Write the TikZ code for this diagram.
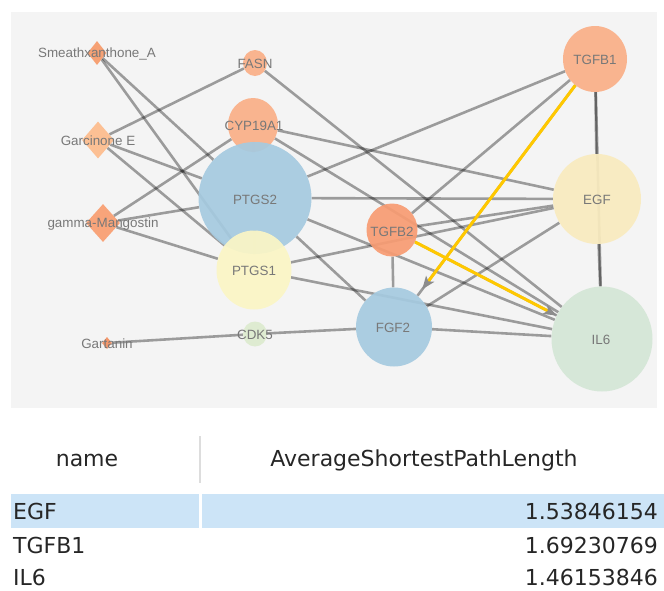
\documentclass[tikz,border=0pt]{standalone}
\usepackage{fontspec}
\setmainfont{Liberation Sans}
\newfontfamily\tablefont{DejaVu Sans}
\usetikzlibrary{shapes.geometric,arrows.meta}
\pgfdeclarelayer{panel}
\pgfdeclarelayer{links}
\pgfsetlayers{panel,links,main}
\definecolor{panelgray}{HTML}{F4F4F4}
\definecolor{orA}{HTML}{FAAF87}
\definecolor{orB}{HTML}{F89C72}
\definecolor{orSm}{HTML}{F79C6C}
\definecolor{orGc}{HTML}{FDBD8E}
\definecolor{orGm}{HTML}{F9A073}
\definecolor{orGt}{HTML}{F49263}
\definecolor{blueN}{HTML}{A5CAE0}
\definecolor{yelN}{HTML}{FBF6C5}
\definecolor{egfN}{HTML}{F9EBBE}
\definecolor{il6N}{HTML}{D4E6D6}
\definecolor{cdkN}{HTML}{DDEBCF}
\definecolor{lblgray}{RGB}{120,120,120}
\definecolor{hiyel}{RGB}{255,200,0}
\definecolor{arrgray}{RGB}{140,140,140}
\definecolor{selblue}{HTML}{CCE4F7}
\definecolor{sepgray}{HTML}{DDDDDD}
\tikzset{
  circ/.style={ellipse, inner sep=0pt, draw=none, fill opacity=0.92},
  dia/.style={diamond, inner sep=0pt, draw=none, fill opacity=0.94},
  lbl/.style={text=lblgray, font=\fontsize{13.4}{15}\selectfont, inner sep=0pt},
  lnk/.style={draw=black, draw opacity=0.36, line width=2.6pt},
  hilite/.style={draw=hiyel, line width=3pt, -{Stealth[length=13pt,width=10pt,inset=3pt,color=arrgray]}},
  ttxt/.style={text=black!85, font=\tablefont\fontsize{22}{26}\selectfont, inner sep=0pt}
}
\begin{document}
\begin{tikzpicture}[x=1pt,y=-1pt]
\useasboundingbox (0,0) rectangle (664,590);
\begin{pgfonlayer}{panel}
\fill[panelgray] (11,12) rectangle (657,408);
\end{pgfonlayer}
% nodes
\node[dia, fill=orSm, minimum width=19pt, minimum height=24pt] (sm) at (97,53) {};
\node[dia, fill=orGc, minimum width=32pt, minimum height=37pt] (gc) at (98,140) {};
\node[dia, fill=orGm, minimum width=34pt, minimum height=38pt] (gm) at (103,223) {};
\node[dia, fill=orGt, minimum width=10pt, minimum height=12pt] (gt) at (107,343) {};
\node[circ, fill=orA, minimum width=24pt, minimum height=26pt] (fasn) at (255,63) {};
\node[circ, fill=orA, minimum width=50pt, minimum height=54pt] (cyp) at (253,125) {};
\node[circ, fill=blueN, minimum width=113pt, minimum height=112pt] (ptgs2) at (255,198) {};
\node[circ, fill=yelN, minimum width=75pt, minimum height=79pt] (ptgs1) at (254,270) {};
\node[circ, fill=cdkN, minimum width=24pt, minimum height=25pt] (cdk5) at (255,334) {};
\node[circ, fill=orA, minimum width=64pt, minimum height=66pt] (tgfb1) at (595,59) {};
\node[circ, fill=egfN, minimum width=88pt, minimum height=90pt] (egf) at (597,199) {};
\node[circ, fill=orB, minimum width=51pt, minimum height=53pt] (tgfb2) at (392,230) {};
\node[circ, fill=blueN, minimum width=76pt, minimum height=79pt] (fgf2) at (394,327) {};
\node[circ, fill=il6N, minimum width=101pt, minimum height=105pt] (il6) at (602,339) {};
% links
\begin{pgfonlayer}{links}
\draw[lnk] (sm) -- (ptgs1);
\draw[lnk] (sm) -- (ptgs2);
\draw[lnk] (ptgs2) -- (fgf2);
\draw[lnk] (gc) -- (fasn);
\draw[lnk] (gc) -- (ptgs2);
\draw[lnk] (gc) -- (ptgs1);
\draw[lnk] (gm) -- (cyp);
\draw[lnk] (gm) -- (ptgs2);
\draw[lnk] (gm) -- (ptgs1);
\draw[lnk] (gt) -- (cdk5);
\draw[lnk] (cdk5) -- (fgf2);
\draw[lnk] (fasn) -- (il6);
\draw[lnk] (cyp) -- (egf);
\draw[lnk] (cyp) -- (il6);
\draw[lnk] (cyp) -- (ptgs2);
\draw[lnk] (ptgs2) -- (ptgs1);
\draw[lnk] (ptgs2) -- (tgfb1);
\draw[lnk] (ptgs2) -- (egf);
\draw[lnk] (ptgs2) -- (il6);
\draw[lnk] (ptgs1) -- (egf);
\draw[lnk] (ptgs1) -- (il6);
\draw[lnk] (tgfb1) -- (egf);
\draw[lnk] (egf) -- (il6);
\draw[lnk] (tgfb1) -- (il6);
\draw[lnk] (tgfb1) -- (tgfb2);
\draw[lnk] (tgfb1) -- (fgf2);
\draw[lnk] (tgfb2) -- (egf);
\draw[lnk] (tgfb2) -- (fgf2);
\draw[lnk] (tgfb2) -- (il6);
\draw[lnk] (egf) -- (fgf2);
\draw[lnk] (fgf2) -- (il6);
\end{pgfonlayer}
% highlighted directed links
\draw[hilite, shorten >=8pt] (tgfb1) -- (fgf2);
\draw[hilite] (tgfb2) -- (il6);
% labels
\node[lbl] (l-sm) at (97,53.5) {Smeathxanthone\_A};
\node[lbl] (l-gc) at (98,141) {Garcinone E};
\node[lbl] (l-gm) at (103,224) {gamma-Mangostin};
\node[lbl] (l-gt) at (107,344) {Gartanin};
\node[lbl] (l-fasn) at (255,64) {FASN};
\node[lbl] (l-cyp) at (254,126) {CYP19A1};
\node[lbl] (l-ptgs2) at (255,200) {PTGS2};
\node[lbl] (l-ptgs1) at (254,271) {PTGS1};
\node[lbl] (l-cdk5) at (255,335) {CDK5};
\node[lbl] (l-tgfb1) at (595,60) {TGFB1};
\node[lbl] (l-egf) at (597,200) {EGF};
\node[lbl] (l-tgfb2) at (392,232) {TGFB2};
\node[lbl] (l-fgf2) at (393,328) {FGF2};
\node[lbl] (l-il6) at (601,340) {IL6};
% table
\fill[selblue] (11,494) rectangle (664,528);
\fill[white] (199,494) rectangle (202,528);
\draw[sepgray, line width=1.5pt] (200,436) -- (200,483);
\node[ttxt] (h-name) at (87,460) {name};
\node[ttxt] (h-aspl) at (424,460) {AverageShortestPathLength};
\node[ttxt, anchor=west] (r1a) at (13,511) {EGF};
\node[ttxt, anchor=east] (r1b) at (658,511) {1.53846154};
\node[ttxt, anchor=west] (r2a) at (13,545) {TGFB1};
\node[ttxt, anchor=east] (r2b) at (658,545) {1.69230769};
\node[ttxt, anchor=west] (r3a) at (13,577) {IL6};
\node[ttxt, anchor=east] (r3b) at (658,577) {1.46153846};
\end{tikzpicture}
\end{document}
